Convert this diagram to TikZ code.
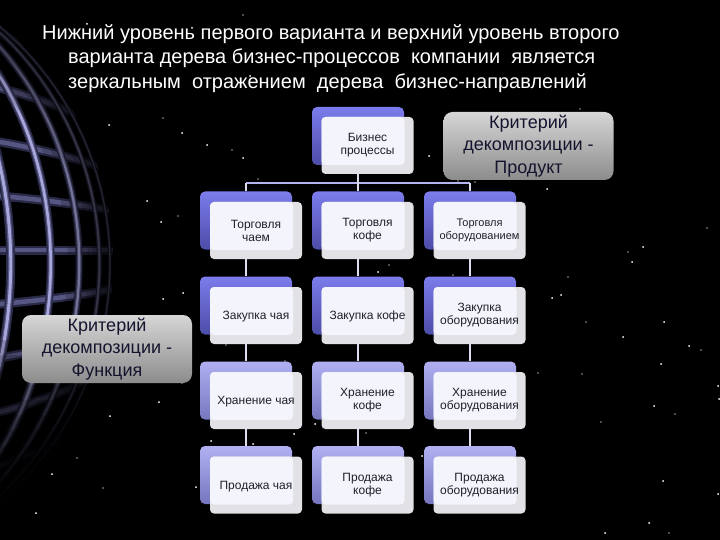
\documentclass[tikz,border=0pt]{standalone}
\usepackage{fontspec}
\setmainfont{Liberation Sans}
\pgfdeclarelayer{bgl}
\pgfdeclarelayer{conn}
\pgfsetlayers{bgl,conn,main}
\definecolor{ink}{HTML}{20202A}
\definecolor{navy}{HTML}{14142E}
\definecolor{busc}{HTML}{B4B4F0}
\definecolor{linkc}{HTML}{DCDCEE}
\definecolor{frontedge}{HTML}{E2E2E6}
\definecolor{frontin}{HTML}{F4F4FC}
\definecolor{deeptop}{HTML}{7C7CEC}
\definecolor{deepbot}{HTML}{4C4CA8}
\definecolor{litetop}{HTML}{B0B0F2}
\definecolor{litebot}{HTML}{7676C0}
\definecolor{crittop}{HTML}{D6D6D6}
\definecolor{critbot}{HTML}{8C8C8C}
\definecolor{gd}{HTML}{2A2A48}
\definecolor{gm}{HTML}{565682}
\definecolor{gl}{HTML}{A8A8DC}
\tikzset{
  backbox/.style 2 args={minimum width=92pt,minimum height=58pt,inner sep=0pt,rounded corners=5pt,top color=#1,bottom color=#2},
  backdeep/.style={backbox={deeptop}{deepbot}},
  backlite/.style={backbox={litetop}{litebot}},
  frontbox/.style={minimum width=92pt,minimum height=57pt,inner sep=0pt,rounded corners=4pt,fill=frontedge,
    text=ink,font=\fontsize{12}{13}\selectfont,align=center,
    execute at begin node={\rule{0pt}{11pt}},
    path picture={\fill[frontin] (path picture bounding box.north west) rectangle ([xshift=-9pt,yshift=9pt]path picture bounding box.south east);}},
  smalltext/.style={font=\fontsize{11}{13}\selectfont},
  critbox/.style={minimum width=170pt,minimum height=68pt,inner sep=0pt,rounded corners=9pt,
    top color=crittop,bottom color=critbot,text=navy,align=center,font=\fontsize{18}{22.5}\selectfont,
    execute at begin node={\rule{0pt}{22pt}}},
  titletext/.style={text=white,align=left,inner sep=0pt,anchor=north west,font=\fontsize{20}{24.5}\selectfont},
  buspath/.style={busc,line width=2pt},
  linkpath/.style={linkc,line width=2pt},
  starbig/.style={fill=white},
  stardim/.style={fill=white!60!black}
}
\begin{document}
\begin{tikzpicture}[x=1pt,y=-1pt]
\useasboundingbox (0,0) rectangle (720,540);
\begin{pgfonlayer}{bgl}
\fill[black] (0,0) rectangle (720,540);
% globe
\begin{scope}
\clip (0,0) rectangle (720,540);
\clip (-196,264) circle (309pt);
\foreach \s in {-434,-372,-310,-248,-186,-124,-62,0,62,124,186,248,310,372,434}{
  \draw[gd,line width=9pt] plot[domain=-5:118,samples=30] (\x,{250+\s*sqrt(1-.6*((\x+196)/309)^2)});
  \draw[gm,line width=4.5pt] plot[domain=-5:118,samples=30] (\x,{250+\s*sqrt(1-.6*((\x+196)/309)^2)});
}
\foreach \l/\w/\c in {30/9/1,42/9/.32,53/8/.3,63/7/.22,73/5/.15,82/3.5/.1}{
  \draw[gd,line width=\w pt] plot[domain=-88:88,samples=70] ({-196+309*sin(\l)*cos(\x)},{264-309*sin(\x)});
  \draw[gm,line width=.6*\w pt] plot[domain=-88:88,samples=70] ({-196+309*sin(\l)*cos(\x)},{264-309*sin(\x)});
  \draw[gl,line width=.32*\w pt] plot[domain=-88:88,samples=70] ({-196+309*sin(\l)*cos(\x)},{264-309*sin(\x)});
}
\foreach \w in {10,20,30,40,50,60,75,90}{
  \draw[black,opacity=.17,line width=\w pt] (-196,264) circle (309pt);
}
\foreach \y in {340,355,370,385,400,415,430,445,460,475,490}{
  \fill[black,opacity=.17] (0,\y) rectangle (130,540);
}
\end{scope}
\foreach \a/\b in {109/125,182/133,147/201,161/222,163/299,183/293,159/402,110/416,52/474,36/513,196/487,87/24,192/28,243/158,207/145,429/156,547/189,378/272,643/247,632/262,561/295,552/298,664/322,623/337,689/346,661/364,718/386,719/399,654/406,663/481,718/494,649/523,605/533,211/441,253/444,294/434,315/424,422/456,250/76}{
  \fill[starbig] (\a,\b) circle (1pt);
}
\foreach \a/\b in {163/118,178/216,232/150,258/179,458/181,475/182,389/265,453/275,568/277,285/361,366/433,538/373,226/345,500/338,182/383,77/458,103/488,707/228,628/252,586/322,701/350,582/374,675/414,601/422,669/533,243/15,580/52,580/109,367/80}{
  \fill[stardim] (\a,\b) circle (.9pt);
}
\end{pgfonlayer}
% title
\node[titletext] (title) at (42,24) {Нижний уровень первого варианта и верхний уровень второго\\
\hspace*{26pt}варианта дерева бизнес-процессов\ \ компании\ \ является\\
\hspace*{26pt}зеркальным\ \ отражением\ \ дерева\ \ бизнес-направлений};
% back boxes
\node[backdeep] (b0) at (358,136) {};
\node[backdeep] (b1) at (246,220.5) {};
\node[backdeep] (b2) at (358,220.5) {};
\node[backdeep] (b3) at (470,220.5) {};
\node[backdeep] (c1) at (246,305.5) {};
\node[backdeep] (c2) at (358,305.5) {};
\node[backdeep] (c3) at (470,305.5) {};
\node[backlite] (d1) at (246,390.5) {};
\node[backlite] (d2) at (358,390.5) {};
\node[backlite] (d3) at (470,390.5) {};
\node[backlite] (e1) at (246,475) {};
\node[backlite] (e2) at (358,475) {};
\node[backlite] (e3) at (470,475) {};
% front boxes
\node[frontbox] (f0) at (367.5,145.5) {Бизнес\\процессы};
\node[frontbox] (f1) at (256,230.5) {Торговля\\чаем};
\node[frontbox] (f2) at (367.5,230.5) {Торговля\\кофе};
\node[frontbox,smalltext] (f3) at (479.5,230.5) {Торговля\\оборудованием};
\node[frontbox] (g1) at (256,315.5) {Закупка чая};
\node[frontbox] (g2) at (367.5,315.5) {Закупка кофе};
\node[frontbox] (g3) at (479.5,315.5) {Закупка\\оборудования};
\node[frontbox] (h1) at (256,400.5) {Хранение чая};
\node[frontbox] (h2) at (367.5,400.5) {Хранение\\кофе};
\node[frontbox] (h3) at (479.5,400.5) {Хранение\\оборудования};
\node[frontbox] (i1) at (256,485) {Продажа чая};
\node[frontbox] (i2) at (367.5,485) {Продажа\\кофе};
\node[frontbox] (i3) at (479.5,485) {Продажа\\оборудования};
% callouts
\node[critbox] (critr) at (528.5,146) {Критерий\\декомпозиции -\\Продукт};
\node[critbox] (critl) at (107,349) {Критерий\\декомпозиции -\\Функция};
% connectors
\coordinate (bus) at (358,183);
\begin{pgfonlayer}{conn}
\draw[buspath] (b1.north |- bus) -- (b3.north |- bus);
\draw[linkpath] (b0.south) -- (b2.north);
\draw[linkpath] (b1.north |- bus) -- (b1.north);
\draw[linkpath] (b3.north |- bus) -- (b3.north);
\foreach \p/\q in {b1/c1,b2/c2,b3/c3,c1/d1,c2/d2,c3/d3,d1/e1,d2/e2,d3/e3}{
  \draw[linkpath] (\p.south) -- (\q.north);
}
\end{pgfonlayer}
\end{tikzpicture}
\end{document}
